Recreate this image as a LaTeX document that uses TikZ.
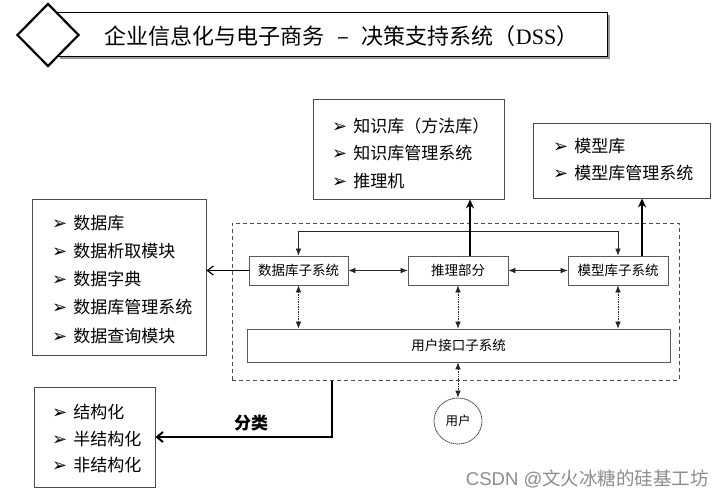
\documentclass[tikz,border=0pt]{standalone}
\usepackage{fontspec}
\usetikzlibrary{arrows.meta,shapes.geometric}
\newfontfamily\cjk{Noto Sans CJK SC}
\newfontfamily\sym{DejaVu Sans}
\newfontfamily\latsans{Liberation Sans}
\newfontfamily\latserif{Liberation Serif}
\newcommand\bl{\raisebox{-0.5pt}{\sym\fontsize{18}{18}\selectfont ➢}\hspace{6pt}}
\tikzset{
  listbox/.style={draw=black!70, line width=0.8pt, inner sep=0pt, fill=white},
  item/.style={anchor=west, inner sep=0pt, font=\cjk\fontsize{17}{19}\selectfont},
  subbox/.style={draw=black!65, line width=0.7pt, inner sep=0pt, fill=white,
    font=\cjk\fontsize{13.5}{15}\selectfont},
  hlink/.style={line width=0.6pt, black!85, {Latex[length=7pt,width=5.5pt]}-{Latex[length=7pt,width=5.5pt]}},
  vlink/.style={line width=0.7pt, densely dotted, black!85, {Latex[length=7pt,width=5.5pt]}-{Latex[length=7pt,width=5.5pt]}},
  thickarrow/.style={line width=1.8pt, -{Stealth[length=9pt,width=8pt]}},
  thinarrow/.style={line width=1.2pt, -{Straight Barb[length=6pt,width=9pt]}},
}
\begin{document}
\begin{tikzpicture}[x=1pt,y=-1pt,font=\cjk]
\useasboundingbox (0,0) rectangle (723,497);
\fill[white] (0,0) rectangle (723,497);

% title
\fill[black!40] (59.5,15.5) rectangle (609.5,59.5);
\node[draw, line width=1pt, fill=white, minimum width=550pt, minimum height=44pt, inner sep=0pt] (tbox) at (332,35) {};
\node[diamond, draw, line width=2.2pt, fill=white, minimum width=62pt, minimum height=63pt, inner sep=0pt] (dia) at (48,35) {};
\node[anchor=west, inner sep=0pt, font=\cjk\fontsize{22}{24}\selectfont] (title) at (104,36)
  {企业信息化与电子商务\hspace{13pt}–\hspace{13pt}决策支持系统（{\latserif DSS}）};

% knowledge box
\node[listbox, minimum width=191pt, minimum height=100pt] (kb) at (408.5,149) {};
\node[item] (kb1) at (332,126) {\bl 知识库（方法库）};
\node[item] (kb2) at (332,153) {\bl 知识库管理系统};
\node[item] (kb3) at (332,181) {\bl 推理机};

% model box
\node[listbox, minimum width=177pt, minimum height=75pt] (mb) at (621.5,160.5) {};
\node[item] (mb1) at (553,146) {\bl 模型库};
\node[item] (mb2) at (553,173) {\bl 模型库管理系统};

% data box
\node[listbox, minimum width=174pt, minimum height=156pt] (db) at (119,277) {};
\node[item] (db1) at (52,223) {\bl 数据库};
\node[item] (db2) at (52,251) {\bl 数据析取模块};
\node[item] (db3) at (52,279) {\bl 数据字典};
\node[item] (db4) at (52,307) {\bl 数据库管理系统};
\node[item] (db5) at (52,336) {\bl 数据查询模块};

% structure box
\node[listbox, minimum width=121pt, minimum height=100pt] (sb) at (94.5,437) {};
\node[item] (sb1) at (52,412) {\bl 结构化};
\node[item] (sb2) at (52,439) {\bl 半结构化};
\node[item] (sb3) at (52,465) {\bl 非结构化};

% DSS dashed frame
\node[draw=black!70, line width=0.8pt, dash pattern=on 4pt off 3pt, minimum width=447pt, minimum height=157pt, inner sep=0pt] (dss) at (455.5,301.5) {};

% subsystems
\node[subbox, minimum width=99pt, minimum height=29pt] (dbs) at (298.5,270.5) {数据库子系统};
\node[subbox, minimum width=100pt, minimum height=29pt] (inf) at (458,270.5) {推理部分};
\node[subbox, minimum width=100pt, minimum height=29pt] (ms) at (618,270.5) {模型库子系统};
\node[subbox, minimum width=423pt, minimum height=33pt] (ui) at (458.5,345.5) {用户接口子系统};
\node[ellipse, draw=black!75, line width=0.8pt, dash pattern=on 1.5pt off 0.6pt, minimum width=48pt, minimum height=46pt, inner sep=0pt,
  font=\cjk\fontsize{12.5}{14}\selectfont] (user) at (458,421) {用户};

% connectors
\coordinate (tl) at (298.5,231);
\coordinate (tr) at (618,231);
\draw[hlink] (dbs.north) -- (tl) -- (tr) -- (ms.north);
\draw[hlink] (dbs.east) -- (inf.west);
\draw[hlink] (inf.east) -- (ms.west);
\draw[vlink] (dbs.south) -- (dbs.south |- ui.north);
\draw[vlink] (inf.south) -- (inf.south |- ui.north);
\draw[vlink] (ms.south) -- (ms.south |- ui.north);
\draw[vlink] (ui.south -| user.north) -- (user.north);

\draw[thickarrow] ([xshift=12pt]inf.north) -- ([xshift=12pt]inf.north |- kb.south);
\draw[thickarrow] ([xshift=24pt]ms.north) -- ([xshift=24pt]ms.north |- mb.south);
\draw[thinarrow] (dbs.west) -- (dbs.west -| db.east);

\coordinate (cls) at (332,380.5);
\draw[line width=2pt, -{Straight Barb[length=6pt,width=10pt]}] (cls) |- (sb.east);
\node[font=\cjk\bfseries\fontsize{17}{19}\selectfont, inner sep=0pt] (fl) at (251,423) {分类};

% watermark
\node[anchor=east, inner sep=0pt, text=black!45, font=\fontsize{18.5}{20}\selectfont] (wm) at (709,479)
  {{\latsans CSDN @}\cjk 文火冰糖的硅基工坊};
\end{tikzpicture}
\end{document}
